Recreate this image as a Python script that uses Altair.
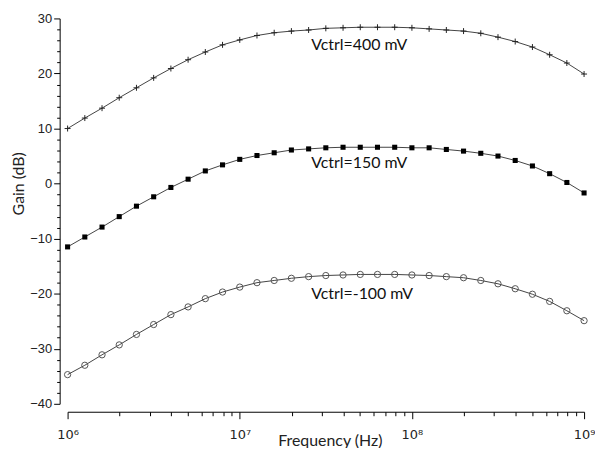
import altair as alt
import pandas as pd

# Frequency grid (Hz), 10 points per decade
freq = [1.000e6, 1.259e6, 1.585e6, 1.995e6, 2.512e6, 3.162e6, 3.981e6, 5.012e6, 6.310e6, 7.943e6,
        1.000e7, 1.259e7, 1.585e7, 1.995e7, 2.512e7, 3.162e7, 3.981e7, 5.012e7, 6.310e7, 7.943e7,
        1.000e8, 1.259e8, 1.585e8, 1.995e8, 2.512e8, 3.162e8, 3.981e8, 5.012e8, 6.310e8, 7.943e8,
        1.000e9]

gain_400 = [10.0, 11.9, 13.7, 15.6, 17.4, 19.2, 20.9, 22.5, 23.9, 25.2,
            26.1, 26.9, 27.4, 27.7, 27.9, 28.2, 28.3, 28.4, 28.4, 28.4,
            28.3, 28.1, 27.9, 27.7, 27.3, 26.6, 25.8, 24.8, 23.4, 21.9, 19.9]
gain_150 = [-11.5, -9.7, -7.9, -6.0, -4.1, -2.4, -0.7, 0.8, 2.3, 3.4,
            4.4, 5.1, 5.6, 6.1, 6.3, 6.5, 6.6, 6.6, 6.6, 6.6,
            6.5, 6.5, 6.2, 5.9, 5.5, 5.0, 4.2, 3.2, 1.8, 0.2, -1.7]
gain_m100 = [-34.7, -33.0, -31.1, -29.3, -27.4, -25.6, -23.8, -22.4, -20.9, -19.7,
             -18.8, -18.0, -17.6, -17.2, -16.9, -16.7, -16.6, -16.5, -16.5, -16.5,
             -16.6, -16.7, -16.9, -17.1, -17.6, -18.2, -19.1, -20.1, -21.4, -23.1, -24.9]

series_names = ["400", "150", "-100"]
label_text = ["Vctrl=400 mV", "Vctrl=150 mV", "Vctrl=-100 mV"]
label_freq = [2.6e7, 2.6e7, 2.6e7]
label_gain = [25.1, 3.7, -20.1]

x_ticks = [m * 10 ** e for e in (6, 7, 8) for m in range(1, 10)] + [10 ** 9]
y_major = [-40, -30, -20, -10, 0, 10, 20, 30]
y_minor = [v for v in range(-40, 31, 2) if v % 10 != 0]

rows = []
for name, vals in zip(series_names, [gain_400, gain_150, gain_m100]):
    for f, g in zip(freq, vals):
        rows.append({"series": name, "freq": f, "gain": g})
df = pd.DataFrame(rows)
labels = pd.DataFrame({"text": label_text, "freq": label_freq, "gain": label_gain})

x_axis = alt.Axis(
    values=x_ticks,
    grid=False,
    domainColor="#000",
    tickColor="#000",
    tickSize={"condition": {"test": "indexof([1000000,10000000,100000000,1000000000], datum.value) >= 0", "value": 7}, "value": 4},
    labelExpr="datum.value == 1000000 ? '10⁶' : datum.value == 10000000 ? '10⁷' : datum.value == 100000000 ? '10⁸' : datum.value == 1000000000 ? '10⁹' : ''",
    labelOverlap=False,
    labelFlush=False,
    labelFont="DejaVu Sans",
    labelFontSize=13,
    labelColor="#222",
    labelPadding=10,
    offset=8,
    title="Frequency (Hz)",
    titleFont="Lato",
    titleFontSize=16,
    titleFontWeight="normal",
    titleColor="#222",
    titleX=264,
    titleY=21,
)

y_axis_major = alt.Axis(
    orient="left",
    values=y_major,
    format="d",
    grid=False,
    domainColor="#000",
    tickColor="#000",
    tickSize=6,
    labelOverlap=False,
    labelFlush=False,
    labelFont="Liberation Sans",
    labelFontSize=13,
    labelColor="#222",
    labelPadding=2,
    offset=8,
    title="Gain (dB)",
    titleFont="Lato",
    titleFontSize=16,
    titleFontWeight="normal",
    titleColor="#222",
    titleX=-33,
    titleY=166,
)

y_axis_minor = alt.Axis(
    orient="left",
    values=y_minor,
    grid=False,
    domain=False,
    labels=False,
    tickColor="#000",
    tickSize=3,
    offset=8,
    title=None,
)

x_scale = alt.Scale(type="log", domain=[1e6, 1e9], nice=False)
y_scale = alt.Scale(domain=[-40, 30], nice=False, zero=False)

lines = alt.Chart(df).mark_line(color="#444", strokeWidth=1).encode(
    x=alt.X("freq:Q", scale=x_scale, axis=x_axis),
    y=alt.Y("gain:Q", scale=y_scale, axis=y_axis_major),
    detail="series:N",
)

minor_ticks = alt.Chart(df).mark_point(opacity=0, size=1).encode(
    x=alt.X("freq:Q", scale=x_scale),
    y=alt.Y("gain:Q", scale=y_scale, axis=y_axis_minor),
)

pts = alt.Chart(df).encode(
    x=alt.X("freq:Q", scale=x_scale),
    y=alt.Y("gain:Q", scale=y_scale, axis=None),
)

plus = pts.transform_filter("datum.series == '400'").mark_point(
    shape="M-1,0H1M0,-1V1", size=36, filled=False, stroke="#222", strokeWidth=1, opacity=1
)
squares = pts.transform_filter("datum.series == '150'").mark_square(
    size=26, color="#000", opacity=1
)
circles = pts.transform_filter("datum.series == '-100'").mark_point(
    shape="circle", size=40, filled=False, stroke="#555", strokeWidth=1, opacity=1
)

texts = alt.Chart(labels).mark_text(
    align="left", baseline="middle", font="Lato", fontSize=16, color="#111"
).encode(
    x=alt.X("freq:Q", scale=x_scale),
    y=alt.Y("gain:Q", scale=y_scale, axis=None),
    text="text:N",
)

chart = alt.layer(lines, minor_ticks, plus, squares, circles, texts).resolve_axis(
    y="independent"
).properties(
    width=520,
    height=388,
    autosize=alt.AutoSizeParams(type="none"),
    padding={"left": 60, "top": 9, "right": 11, "bottom": 43},
    background="white",
).configure_view(strokeWidth=0)

chart.save("out.html", embed_options={"renderer": "svg", "actions": False})
